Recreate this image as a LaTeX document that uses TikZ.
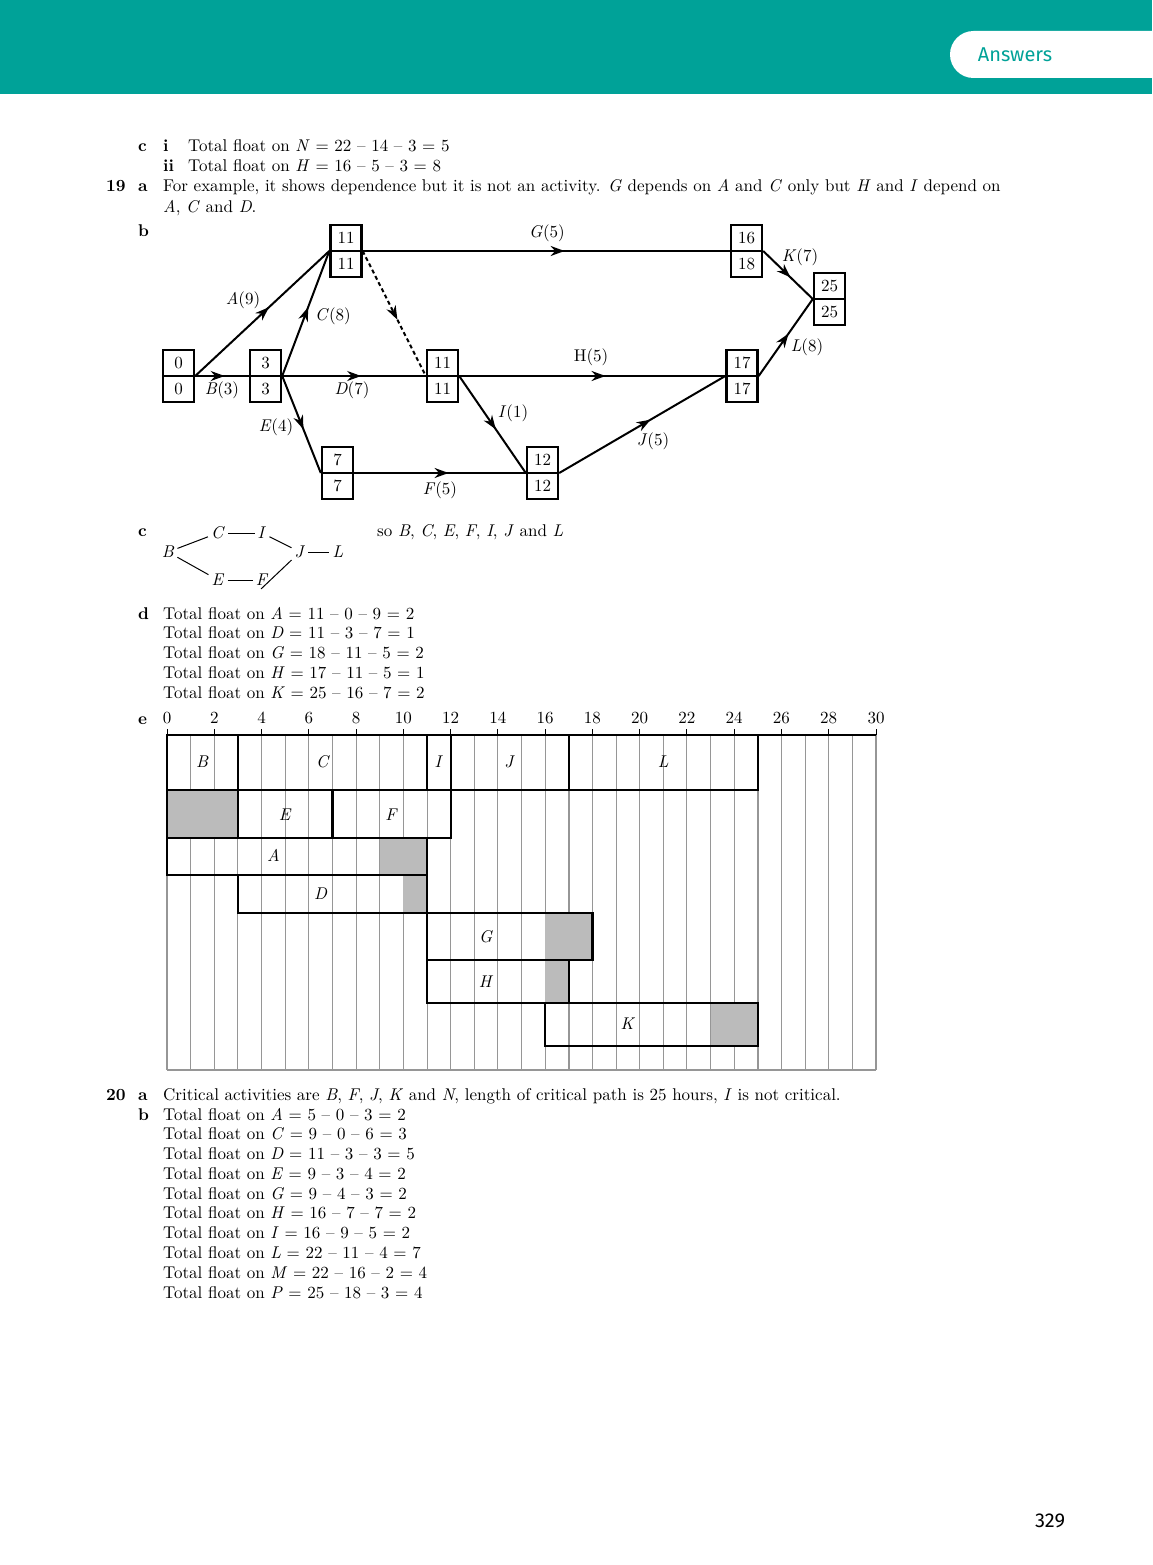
\documentclass[tikz,border=0pt]{standalone}
\usepackage{fontspec}
\setmainfont{lmroman10-regular.otf}[BoldFont=lmroman10-bold.otf,ItalicFont=lmroman10-italic.otf,BoldItalicFont=lmroman10-bolditalic.otf]
\newfontfamily\tabfont{Fira Sans}
\usetikzlibrary{arrows.meta,decorations.markings}
\definecolor{bandteal}{RGB}{0,162,152}
\definecolor{slackgrey}{RGB}{187,187,187}
\definecolor{gridgrey}{RGB}{150,150,150}
\newcommand\pagesize{\fontsize{17}{19.8}\selectfont}

\begin{document}
\begin{tikzpicture}[x=1pt,y=-1pt,>=Stealth,
  txt/.style={anchor=base west,inner sep=0,font=\pagesize},
  lab/.style={inner sep=0,font=\pagesize},
  evbox/.style={draw,line width=2.4pt,minimum width=31pt,minimum height=52pt,inner sep=0},
  act/.style={line width=2pt,postaction={decorate},
    decoration={markings,mark=at position .55 with {\arrow{Stealth[length=14pt,width=10pt]}}}},
  dummy/.style={act,dash pattern=on 4pt off 3pt},
  cline/.style={line width=1pt},
  bar/.style={line width=2.2pt},
  gridline/.style={gridgrey,line width=.9pt},
  gridbold/.style={gridgrey,line width=1.8pt}]
\useasboundingbox (0,0) rectangle (1152,1565);

% header band and tab
\fill[bandteal] (0,0) rectangle (1152,94);
\fill[white,rounded corners=23.5pt] (950,31) rectangle (1210,78);
\node[inner sep=0,font=\tabfont\fontsize{20}{24}\selectfont,text=bandteal] (tab) at (1015,55) {Answers};

% 18 c, 19 a
\node[txt] (c1) at (138,152) {\bfseries c};
\node[txt] (c1i) at (163,152) {\bfseries i};
\node[txt] (c1t) at (188,152) {Total float on \textit{N} = 22 -- 14 -- 3 = 5};
\node[txt] (c1ii) at (163,172) {\bfseries ii};
\node[txt] (c1u) at (188,172) {Total float on \textit{H} = 16 -- 5 -- 3 = 8};
\node[txt] (q19) at (106,192) {\bfseries 19};
\node[txt] (q19a) at (138,192) {\bfseries a};
\node[txt] (q19t) at (163,192) {For example, it shows dependence but it is not an activity. \textit{G} depends on \textit{A} and \textit{C} only but \textit{H} and \textit{I} depend on};
\node[txt] (q19u) at (163,212) {\textit{A}, \textit{C} and \textit{D}.};
\node[txt] (q19b) at (138,236) {\bfseries b};

% activity network
\foreach \n/\x/\y/\es/\ls in {e0/178.5/376/0/0, e3/265.5/376/3/3, e11a/346/251/11/11,
    e11b/442.5/376/11/11, e7/337.5/473/7/7, e12/542.5/473/12/12,
    e16/746.5/251/16/18, e17/742/376/17/17, e25/829.5/299/25/25}{
  \node[evbox] (\n) at (\x,\y) {};
  \draw[line width=2pt] (\n.west) -- (\n.east);
  \node[lab] at (\x,\y-13) {\es};
  \node[lab] at (\x,\y+13) {\ls};
}
\draw[act] (e0.east) -- (e11a.west);
\draw[act] (e0.east) -- (e3.west);
\draw[act] (e3.east) -- (e11a.west);
\draw[act] (e3.east) -- (e11b.west);
\draw[act] (e3.east) -- (e7.west);
\draw[dummy] (e11a.east) -- (e11b.west);
\draw[act] (e11a.east) -- (e16.west);
\draw[act] (e11b.east) -- (e17.west);
\draw[act] (e11b.east) -- (e12.west);
\draw[act] (e7.east) -- (e12.west);
\draw[act] (e12.east) -- (e17.west);
\draw[act] (e16.east) -- (e25.west);
\draw[act] (e17.east) -- (e25.west);
\node[lab] (la) at (243,300) {\textit{A}(9)};
\node[lab] (lb) at (222,390) {\textit{B}(3)};
\node[lab] (lc) at (333,316) {\textit{C}(8)};
\node[lab] (ld) at (352,390) {\textit{D}(7)};
\node[lab] (le) at (276,427) {\textit{E}(4)};
\node[lab] (lg) at (547,233) {\textit{G}(5)};
\node[lab] (lh) at (591,357) {H(5)};
\node[lab] (li) at (513,413) {\textit{I}(1)};
\node[lab] (lf) at (440,490) {\textit{F}(5)};
\node[lab] (lj) at (653,441) {\textit{J}(5)};
\node[lab] (lk) at (800,257) {\textit{K}(7)};
\node[lab] (ll) at (807,347) {\textit{L}(8)};

% c: critical paths
\node[txt] (qc) at (138,536) {\bfseries c};
\foreach \n/\x/\y in {B/168/552, C/218/533, I/262/533, J/300/552, L/338/552, E/218/580, F/262/580}
  \node[lab,inner sep=3pt] (c\n) at (\x,\y) {\textit{\n}};
\draw[cline] (cB) -- (cC);
\draw[cline] (cB) -- (cE);
\draw[cline] (cC) -- (cI);
\draw[cline] (cE) -- (cF);
\draw[cline] (cI) -- (cJ);
\draw[cline] ([xshift=-1pt]cF.south) -- (cJ);
\draw[cline] (cJ) -- (cL);
\node[txt] (qcs) at (377,536) {so \textit{B}, \textit{C}, \textit{E}, \textit{F}, \textit{I}, \textit{J} and \textit{L}};

% d: floats
\node[txt] (qd) at (138,619) {\bfseries d};
\foreach \v/\eq [count=\k from 0] in {A/{11 -- 0 -- 9 = 2}, D/{11 -- 3 -- 7 = 1},
    G/{18 -- 11 -- 5 = 2}, H/{17 -- 11 -- 5 = 1}, K/{25 -- 16 -- 7 = 2}}
  \node[txt] (d\k) at (163,619+19.75*\k) {Total float on \textit{\v} = \eq};

% e: cascade chart
\node[txt] (qe) at (138,724) {\bfseries e};
\begin{scope}[shift={(167,0)},x=23.633pt]
\foreach \t in {0,...,30}
  \draw[gridline] (\t,735) -- (\t,1070);
\foreach \t in {0,17,25,30}
  \draw[gridbold] (\t,735) -- (\t,1070);
\draw[gridbold] (0,1070) -- (30,1070);
\foreach \a/\b/\ya/\yb in {0/3/790/838, 9/11/838/875, 10/11/875/913, 16/18/913/960, 16/17/960/1003, 23/25/1003/1046}
  \fill[slackgrey] (\a,\ya) rectangle (\b,\yb);
\foreach \a/\b/\ya/\yb in {0/3/735/790, 3/11/735/790, 11/12/735/790, 12/17/735/790, 17/25/735/790,
    0/3/790/838, 3/7/790/838, 7/12/790/838, 0/11/838/875, 3/11/875/913,
    11/18/913/960, 11/17/960/1003, 16/25/1003/1046}
  \draw[bar] (\a,\ya) rectangle (\b,\yb);
\draw[bar] (0,735) -- (30,735);
\foreach \t in {0,2,...,30}{
  \draw[line width=1pt] (\t,729) -- (\t,735);
  \node[lab] (ax\t) at (\t,718) {\t};
}
\foreach \n/\t/\y in {B/1.5/762, C/6.6/762, I/11.5/762, J/14.5/762, L/21/762, E/5/815, F/9.5/815,
    A/4.5/855, D/6.5/894, G/13.5/937, H/13.5/982, K/19.5/1024}
  \node[lab] (g\n) at (\t,\y) {\textit{\n}};
\end{scope}

% 20
\node[txt] (q20) at (106,1100) {\bfseries 20};
\node[txt] (q20a) at (138,1100) {\bfseries a};
\node[txt] (q20t) at (163,1100) {Critical activities are \textit{B}, \textit{F}, \textit{J}, \textit{K} and \textit{N}, length of critical path is 25 hours, \textit{I} is not critical.};
\node[txt] (q20b) at (138,1120) {\bfseries b};
\foreach \v/\eq [count=\k from 0] in {A/{5 -- 0 -- 3 = 2}, C/{9 -- 0 -- 6 = 3}, D/{11 -- 3 -- 3 = 5},
    E/{9 -- 3 -- 4 = 2}, G/{9 -- 4 -- 3 = 2}, H/{16 -- 7 -- 7 = 2}, I/{16 -- 9 -- 5 = 2},
    L/{22 -- 11 -- 4 = 7}, M/{22 -- 16 -- 2 = 4}, P/{25 -- 18 -- 3 = 4}}
  \node[txt] (f\k) at (163,1120+19.78*\k) {Total float on \textit{\v} = \eq};

% page number
\node[inner sep=0,font=\tabfont\fontsize{20}{24}\selectfont] (pnum) at (1050,1521) {329};
\end{tikzpicture}
\end{document}
